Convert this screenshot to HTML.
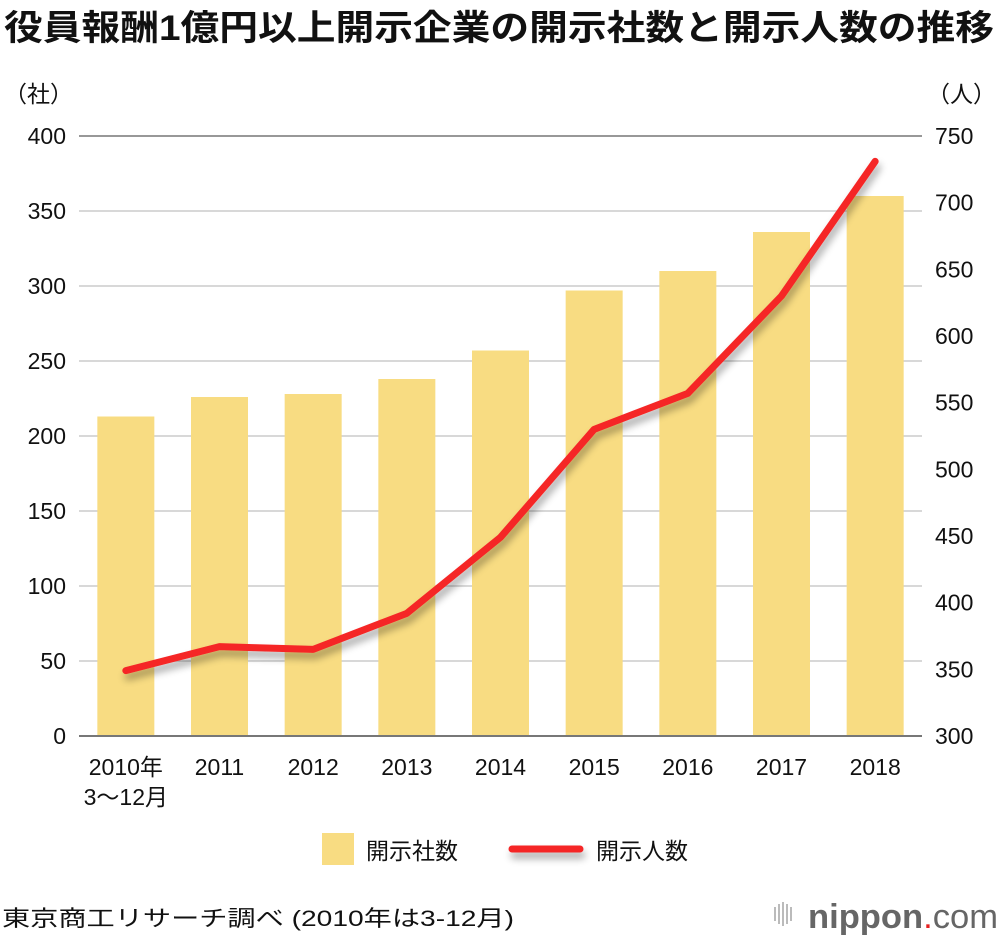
<!DOCTYPE html>
<html><head><meta charset="utf-8"><style>
body{margin:0;background:#fff;width:1000px;height:940px;overflow:hidden;font-family:"Liberation Sans","Noto Sans CJK JP",sans-serif;}
svg text{font-family:"Liberation Sans","Noto Sans CJK JP",sans-serif;}
</style></head><body>
<svg id="chart" width="1000" height="940">
<defs>
<filter id="sh" x="-10%" y="-10%" width="120%" height="130%"><feGaussianBlur in="SourceAlpha" stdDeviation="4"/><feOffset dx="2" dy="6"/><feComponentTransfer><feFuncA type="linear" slope="0.35"/></feComponentTransfer><feMerge><feMergeNode/><feMergeNode in="SourceGraphic"/></feMerge></filter>
<filter id="sh2" filterUnits="userSpaceOnUse" x="490" y="825" width="120" height="50"><feGaussianBlur in="SourceAlpha" stdDeviation="4"/><feOffset dx="2" dy="6"/><feComponentTransfer><feFuncA type="linear" slope="0.35"/></feComponentTransfer><feMerge><feMergeNode/><feMergeNode in="SourceGraphic"/></feMerge></filter>
</defs>
<text x="4" y="40" font-size="35" font-weight="bold" fill="#111" textLength="990" lengthAdjust="spacingAndGlyphs">役員報酬1億円以上開示企業の開示社数と開示人数の推移</text>
<text x="4" y="102" font-size="23" fill="#111">（社）</text>
<text x="996" y="102" font-size="23" fill="#111" text-anchor="end">（人）</text>
<g id="grid"></g><g id="bars"></g><g id="line"></g><g id="ticks"></g>
<rect x="322" y="833" width="32" height="32" fill="#f8dc82"/>
<text x="366" y="859" font-size="23" fill="#111">開示社数</text>
<line x1="512" y1="849" x2="580" y2="849" stroke="#f52525" stroke-width="7" stroke-linecap="round" filter="url(#sh2)"/>
<text x="596" y="859" font-size="23" fill="#111">開示人数</text>
<text x="2" y="926" font-size="22" fill="#111" textLength="512" lengthAdjust="spacingAndGlyphs">東京商工リサーチ調べ (2010年は3-12月)</text>
<g>
<g fill="#bbb"><rect x="774" y="907" width="2" height="14"/><rect x="778" y="904" width="2" height="20"/><rect x="782" y="902" width="2" height="24"/><rect x="786" y="904" width="2" height="20"/><rect x="790" y="907" width="2" height="14"/></g>
<text x="808" y="928" font-size="34" fill="#666" textLength="190" lengthAdjust="spacingAndGlyphs"><tspan font-weight="bold">nippon</tspan><tspan fill="#e52222">.</tspan><tspan>com</tspan></text>
</g>
</svg>
<script>
const categories=["2010年","2011","2012","2013","2014","2015","2016","2017","2018"];
const companies=[213,226,228,238,257,297,310,336,360];
const people=[349,367,365,392,449,530,557,630,731];
const leftTicks=[0,50,100,150,200,250,300,350,400];
const rightTicks=[300,350,400,450,500,550,600,650,700,750];
const NS="http://www.w3.org/2000/svg";
const x0=79,x1=922,yB=736,yT=136;
const yL=v=>yB-(v/400)*(yB-yT);
const yR=v=>yB-((v-300)/450)*(yB-yT);
const step=(x1-x0)/categories.length;
const xC=i=>x0+step*(i+0.5);
function mk(t,a,p){const e=document.createElementNS(NS,t);for(const k in a)e.setAttribute(k,a[k]);p.appendChild(e);return e;}
const g=document.getElementById('grid'),b=document.getElementById('bars'),l=document.getElementById('line'),tk=document.getElementById('ticks');
leftTicks.forEach(v=>{const y=yL(v);
const ln=mk('line',{x1:x0,x2:x1,y1:y,y2:y,stroke:v===0||v===400?'#777':'#ccc','stroke-width':v===0?2:1.5},v===0?tk:g);


const t=mk('text',{x:66,y:y+8,'font-size':23,'text-anchor':'end',fill:'#111'},tk);t.textContent=v;

});
rightTicks.forEach(v=>{const t=mk('text',{x:935,y:yR(v)+8,'font-size':23,fill:'#111'},tk);t.textContent=v;

});
const bw=57;
companies.forEach((v,i)=>{const r=mk('rect',{x:xC(i)-bw/2,y:yL(v),width:bw,height:yB-yL(v),fill:'#f8dc82'},b);

});
categories.forEach((c,i)=>{const t=mk('text',{x:xC(i),y:775,'font-size':23,'text-anchor':'middle',fill:'#111'},tk);t.textContent=c;


if(i===0){const t2=mk('text',{x:xC(i),y:805,'font-size':23,'text-anchor':'middle',fill:'#111'},tk);t2.textContent='3〜12月';

}});
const pts=people.map((v,i)=>xC(i)+','+yR(v)).join(' ');
const pl=mk('polyline',{points:pts,fill:'none',stroke:'#f52525','stroke-width':7,'stroke-linejoin':'round','stroke-linecap':'round',filter:'url(#sh)'},l);


</script>
</body></html>
